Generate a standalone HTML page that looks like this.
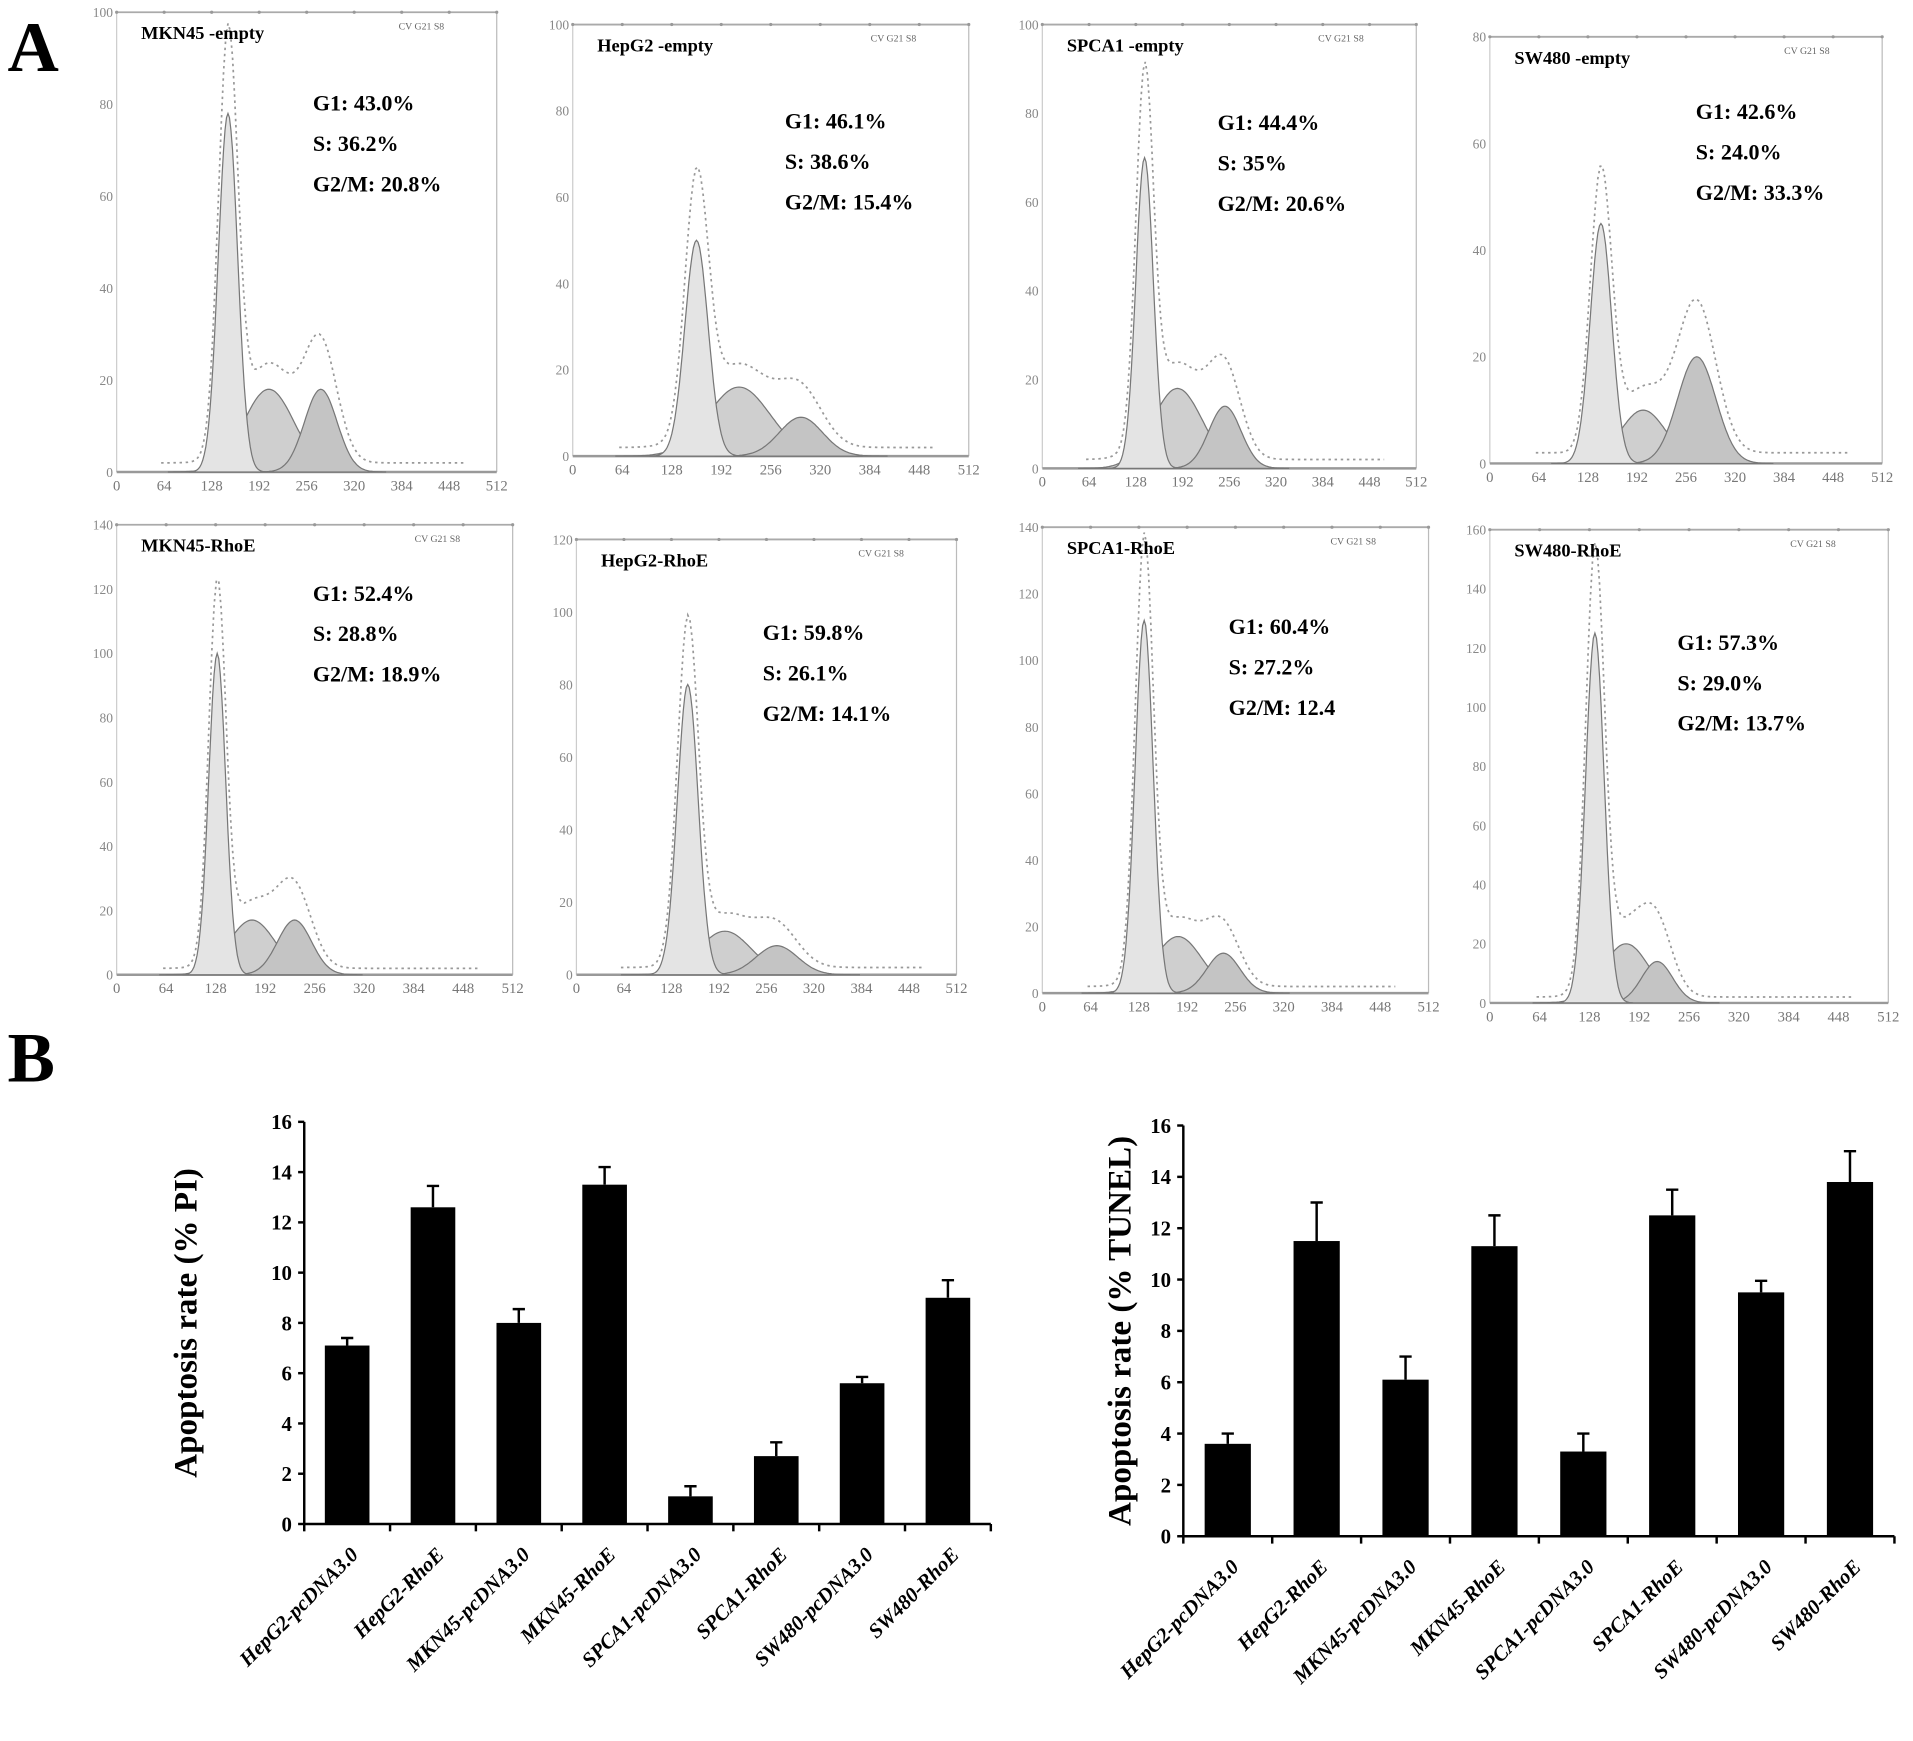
<!DOCTYPE html>
<html><head><meta charset="utf-8">
<style>
html,body{margin:0;padding:0;background:#fff;}
svg{display:block;}
.ser{font-family:"Liberation Serif",serif;}
</style></head>
<body>
<svg id="fig" width="1913" height="1741" viewBox="0 0 1560 1420" xmlns="http://www.w3.org/2000/svg" class="ser">
<text x="6" y="58" font-size="58" font-weight="bold">A</text>
<text x="6" y="882" font-size="58" font-weight="bold">B</text>
<g id="hists"></g>
<g id="bars1"></g>
<g id="bars2"></g>
</svg>
<script>
// ---- histogram data ----
const histNames = ["MKN45 -empty","HepG2 -empty","SPCA1 -empty","SW480 -empty","MKN45-RhoE","HepG2-RhoE","SPCA1-RhoE","SW480-RhoE"];
const histYMax = [100,100,100,80,140,120,140,160];
const g1Pct = ["43.0%","46.1%","44.4%","42.6%","52.4%","59.8%","60.4%","57.3%"];
const sPct = ["36.2%","38.6%","35%","24.0%","28.8%","26.1%","27.2%","29.0%"];
const g2Pct = ["20.8%","15.4%","20.6%","33.3%","18.9%","14.1%","12.4","13.7%"];
const g1Center = [150,160,140,145,130,150,135,135];
const g1Height = [78,50,70,45,100,80,112,125];
const g1Width = [13,15,12,14,11,14,12,12];
const sCenter = [205,215,185,200,175,200,180,175];
const sHeight = [18,16,18,10,17,12,17,20];
const sWidth = [34,40,34,30,30,35,32,30];
const g2Center = [275,295,250,270,230,270,240,215];
const g2Height = [18,9,14,20,17,8,12,14];
const g2Width = [22,28,22,25,22,28,22,20];
const xTicks = [0,64,128,192,256,320,384,448,512];

// layout (display coords)
const frames = [[95,10,405,385],[467,20,790,372],[850,20,1155,382],[1215,30,1535,378],
                [95,428,418,795],[470,440,780,795],[850,430,1165,810],[1215,432,1540,818]];
const statPos = [[255,90],[640,105],[993,106],[1383,97],[255,490],[622,522],[1002,517],[1368,530]];

const NS="http://www.w3.org/2000/svg";
function mk(tag,attrs,parent){const e=document.createElementNS(NS,tag);for(const k in attrs)e.setAttribute(k,attrs[k]);parent.appendChild(e);return e;}
const hg=document.getElementById('hists');
function gauss(x,c,h,w){return h*Math.exp(-0.5*((x-c)/w)**2);}
for(let i=0;i<8;i++){
  const [L,T,R,B]=frames[i];
  const g=mk('g',{},hg);
  
  
  const xs=v=>L+(v/512)*(R-L);
  const ys=v=>B-(v/histYMax[i])*(B-T);
  mk('line',{x1:L,y1:T,x2:R,y2:T,stroke:'#aaa','stroke-width':1.5},g);
  mk('line',{x1:R,y1:T,x2:R,y2:B,stroke:'#bbb','stroke-width':1},g);
  mk('line',{x1:L,y1:T,x2:L,y2:B,stroke:'#ccc','stroke-width':1},g);
  mk('line',{x1:L,y1:B,x2:R,y2:B,stroke:'#999','stroke-width':2},g);
  xTicks.forEach(t=>{
    const tx=mk('text',{x:xs(t),y:B+15,'font-size':12,'text-anchor':'middle',fill:'#777'},g);tx.textContent=t;
    
    
    mk('circle',{cx:xs(t),cy:T,r:1.3,fill:'#999'},g);
  });
  for(let v=0;v<=histYMax[i];v+=20){
    const tx=mk('text',{x:L-3,y:ys(v)+4,'font-size':11,'text-anchor':'end',fill:'#888'},g);tx.textContent=v;
    
    
  }
  const comps=[[sCenter[i],sHeight[i],sWidth[i],'#cfcfcf'],[g2Center[i],g2Height[i],g2Width[i],'#c4c4c4'],[g1Center[i],g1Height[i],g1Width[i],'#e4e4e4']];
  comps.forEach((c,k)=>{
    let d='M'+xs(c[0]-4*c[2])+','+B;
    for(let x=c[0]-4*c[2];x<=c[0]+4*c[2];x+=2)d+=' L'+xs(x).toFixed(1)+','+ys(gauss(x,c[0],c[1],c[2])).toFixed(1);
    d+=' L'+xs(c[0]+4*c[2])+','+B+'Z';
    const p=mk('path',{d:d,fill:c[3],stroke:'#777','stroke-width':1},g);
    
    
  });
  let d='';
  for(let x=60;x<=470;x+=3){const v=gauss(x,g1Center[i],g1Height[i]*1.15,g1Width[i])+gauss(x,sCenter[i],sHeight[i]*1.2,sWidth[i])+gauss(x,g2Center[i],g2Height[i]*1.4,g2Width[i])+2;d+=(d?' L':'M')+xs(x).toFixed(1)+','+ys(v).toFixed(1);}
  const env=mk('path',{d:d,fill:'none',stroke:'#999','stroke-width':1.4,'stroke-dasharray':'2,3'},g);
  
  
  const nm=mk('text',{x:L+20,y:T+22,'font-size':15,'font-weight':'bold'},g);nm.textContent=histNames[i];
  
  
  const cv=mk('text',{x:R-80,y:T+14,'font-size':8,fill:'#666'},g);cv.textContent='CV G21 S8';
  
  
  const [sx,sy]=statPos[i];
  [['G1:  ',g1Pct[i]],['S:    ',sPct[i]],['G2/M: ',g2Pct[i]]].forEach((r,k)=>{
    const t=mk('text',{x:sx,y:sy+k*33,'font-size':18,'font-weight':'bold','xml:space':'preserve'},g);
    t.textContent=r[0]+r[1];
    
    
  });
}

// ---- bar chart data ----
const barCategories = ["HepG2-pcDNA3.0","HepG2-RhoE","MKN45-pcDNA3.0","MKN45-RhoE","SPCA1-pcDNA3.0","SPCA1-RhoE","SW480-pcDNA3.0","SW480-RhoE"];
const piValues = [7.1,12.6,8.0,13.5,1.1,2.7,5.6,9.0];
const piErrors = [0.3,0.85,0.55,0.7,0.4,0.55,0.25,0.7];
const tunelValues = [3.6,11.5,6.1,11.3,3.3,12.5,9.5,13.8];
const tunelErrors = [0.4,1.5,0.9,1.2,0.7,1.0,0.45,1.2];
const yTickLabels = [0,2,4,6,8,10,12,14,16];

function barChart(gid,x0,x1,y0,y16,vals,errs,title,titleX){
  const g=document.getElementById(gid);
  const ys=v=>y0-(v/16)*(y0-y16);
  const step=(x1-x0)/8;
  mk('line',{x1:x0,y1:y16,x2:x0,y2:y0,stroke:'#000','stroke-width':2},g);
  mk('line',{x1:x0,y1:y0,x2:x1,y2:y0,stroke:'#000','stroke-width':2},g);
  yTickLabels.forEach(v=>{
    mk('line',{x1:x0-5,y1:ys(v),x2:x0,y2:ys(v),stroke:'#000','stroke-width':2},g);
    const t=mk('text',{x:x0-10,y:ys(v)+6,'font-size':17,'font-weight':'bold','text-anchor':'end'},g);t.textContent=v;
    
    
  });
  for(let k=0;k<=8;k++)mk('line',{x1:x0+k*step,y1:y0,x2:x0+k*step,y2:y0+6,stroke:'#000','stroke-width':2},g);
  vals.forEach((v,k)=>{
    const cx=x0+(k+0.5)*step, bw=step*0.52;
    const r=mk('rect',{x:cx-bw/2,y:ys(v),width:bw,height:y0-ys(v),fill:'#000'},g);
    
    
    const e=mk('path',{d:`M${cx},${ys(v)} V${ys(v+errs[k])} M${cx-5},${ys(v+errs[k])} H${cx+5}`,stroke:'#000','stroke-width':2,fill:'none'},g);
    
    
    const t=mk('text',{x:cx+10,y:y0+26,'font-size':17,'font-weight':'bold','font-style':'italic','text-anchor':'end',transform:`rotate(-45 ${cx+10} ${y0+26})`},g);
    t.textContent=barCategories[k];
    
    
  });
  const ty=(y0+y16)/2;
  const t=mk('text',{x:titleX,y:ty,'font-size':27,'font-weight':'bold','text-anchor':'middle',transform:`rotate(-90 ${titleX} ${ty})`},g);
  t.textContent=title;
  
  
}
barChart('bars1',248,808,1243,915,piValues,piErrors,'Apoptosis rate (% PI)',160);
barChart('bars2',965,1545,1253,918,tunelValues,tunelErrors,'Apoptosis rate (% TUNEL)',922);
</script>
</body></html>
